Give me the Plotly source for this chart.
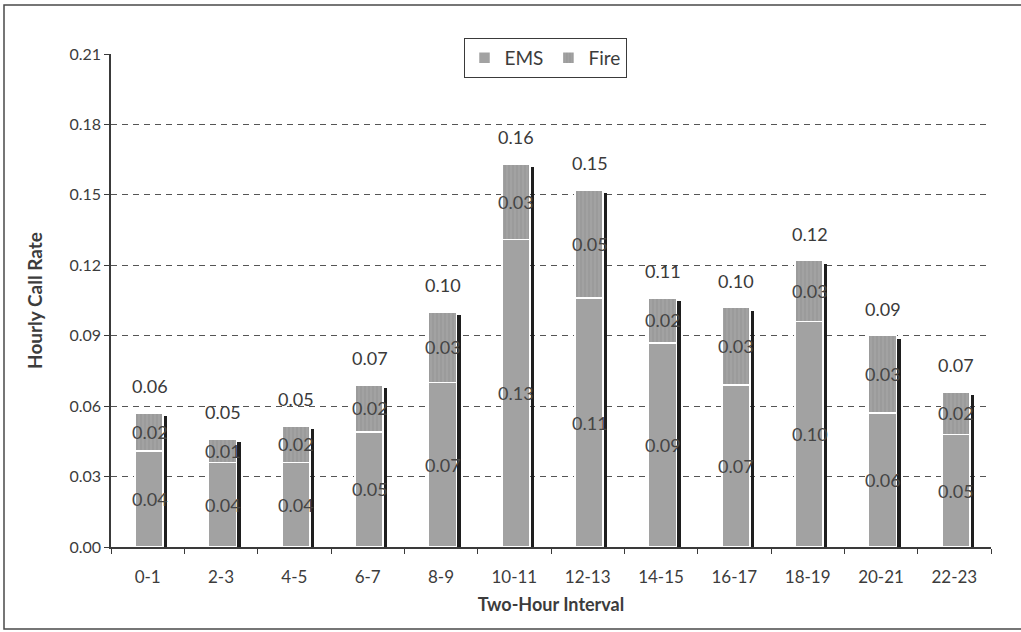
import plotly.graph_objects as go

# Two-hour intervals and hourly call rates per call type
intervals = ["0-1", "2-3", "4-5", "6-7", "8-9", "10-11",
             "12-13", "14-15", "16-17", "18-19", "20-21", "22-23"]
ems = [0.041, 0.036, 0.036, 0.049, 0.070, 0.131,
       0.106, 0.087, 0.069, 0.096, 0.057, 0.048]
fire = [0.016, 0.010, 0.0155, 0.020, 0.030, 0.032,
        0.046, 0.019, 0.033, 0.026, 0.033, 0.018]
y_ticks = [0.00, 0.03, 0.06, 0.09, 0.12, 0.15, 0.18, 0.21]

totals = [round(e + f, 4) for e, f in zip(ems, fire)]

FONT = "Lato, 'Open Sans', sans-serif"
TXT = "#3c3c3c"

# Plot-area geometry in pixels (used for paper-space shapes)
L, R, T, B = 111, 991, 54, 547
W, H = 1021, 632
def px_x(p):
    return (p - L) / (R - L)
def px_y(p):
    return (B - p) / (B - T)

BAR_W = 0.38
BAR_OFF = -0.17

fig = go.Figure()

fig.add_trace(go.Bar(
    name="EMS", x=intervals, y=ems,
    width=BAR_W, offset=BAR_OFF,
    marker=dict(color="#a2a2a2", line=dict(color="white", width=1.5)),
    hoverinfo="x+y",
))
fig.add_trace(go.Bar(
    name="Fire", x=intervals, y=fire,
    width=BAR_W, offset=BAR_OFF,
    marker=dict(color="#9a9a9a",
                line=dict(color="white", width=1.5),
                pattern=dict(shape="|", fgcolor="#888888", bgcolor="#a2a2a2",
                             size=4, solidity=0.25)),
    hoverinfo="x+y",
))
# Drop shadow to the right of each stacked bar
fig.add_trace(go.Bar(
    name="shadow", x=intervals, y=[t - 0.0013 for t in totals],
    width=0.048, offset=0.222, yaxis="y2",
    marker=dict(color="#1e1e1e", line=dict(width=0)),
    showlegend=False, hoverinfo="skip",
))

LABEL_FONT = dict(family=FONT, size=18, color="#454545")
annotations = []
for cat, e, f, t in zip(intervals, ems, fire, totals):
    annotations.append(dict(x=cat, y=e / 2, text=f"{e:.2f}", showarrow=False,
                            xshift=2, font=LABEL_FONT))
    annotations.append(dict(x=cat, y=e + f / 2, text=f"{f:.2f}", showarrow=False,
                            xshift=2, font=LABEL_FONT))
    annotations.append(dict(x=cat, y=t, text=f"{t:.2f}", showarrow=False,
                            xshift=2, yshift=27,
                            font=dict(family=FONT, size=18, color="#3a3a3a")))

shapes = [
    # outer chart frame
    dict(type="rect", xref="paper", yref="paper",
         x0=px_x(4), x1=px_x(1030), y0=px_y(629), y1=px_y(5),
         line=dict(color="#4a4a4a", width=1.5), layer="below"),
]

fig.update_layout(
    width=W, height=H,
    margin=dict(l=L, r=W - R, t=T, b=H - B, autoexpand=False),
    barmode="stack",
    plot_bgcolor="white", paper_bgcolor="white",
    font=dict(family=FONT, color=TXT),
    showlegend=True,
    legend=dict(orientation="h", x=px_x(545), xanchor="center",
                y=px_y(38), yanchor="top",
                bgcolor="white", bordercolor="#3a3a3a", borderwidth=1,
                font=dict(family=FONT, size=19, color=TXT),
                itemwidth=30, traceorder="normal"),
    xaxis=dict(
        type="category", categoryorder="array", categoryarray=intervals,
        range=[-0.5, len(intervals) - 0.5],
        showline=True, linecolor="#3a3a3a", linewidth=1.5,
        ticks="outside", tickson="boundaries", ticklen=5, tickcolor="#3a3a3a",
        ticklabelstandoff=14,
        showgrid=False, zeroline=False,
        tickfont=dict(family=FONT, size=17, color=TXT),
        title=dict(text="<b>Two-Hour Interval</b>", standoff=12,
                   font=dict(family=FONT, size=18, color=TXT)),
        automargin=False,
    ),
    yaxis=dict(
        range=[0, 0.21], tickvals=y_ticks,
        ticktext=[f"{v:.2f}" for v in y_ticks],
        showline=True, linecolor="#3a3a3a", linewidth=1.5,
        ticks="outside", ticklen=5, tickcolor="#3a3a3a",
        showgrid=True, gridcolor="#555555", gridwidth=1, griddash="6px,5px",
        zeroline=False,
        tickfont=dict(family=FONT, size=16, color=TXT),
        title=dict(text="<b>Hourly Call Rate</b>", standoff=22,
                   font=dict(family=FONT, size=19, color=TXT)),
        automargin=False,
    ),
    yaxis2=dict(range=[0, 0.21], overlaying="y", visible=False),
    annotations=annotations,
    shapes=shapes,
)

fig.write_html("out.html")
